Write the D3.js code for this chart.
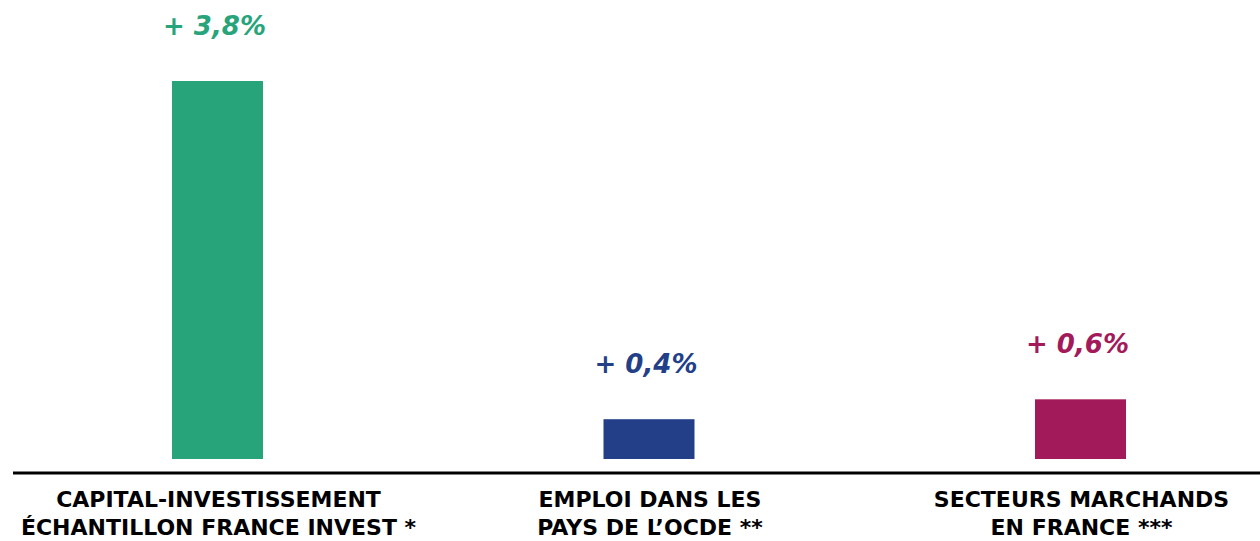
<!DOCTYPE html>
<html>
<head>
<meta charset="utf-8">
<script src="https://cdn.jsdelivr.net/npm/d3@7"></script>
<style>
  body { margin: 0; background: #fff; }
  svg { display: block; }
</style>
</head>
<body>
<script>
'use strict';

// chart data
const categories = ['capital', 'emploi', 'secteurs'];
const values = [3.8, 0.4, 0.6];
const valueLabels = ['+ 3,8%', '+ 0,4%', '+ 0,6%'];
const categoryLines = [
  ['CAPITAL-INVESTISSEMENT', 'ÉCHANTILLON FRANCE INVEST *'],
  ['EMPLOI DANS LES', 'PAYS DE L\u2019OCDE **'],
  ['SECTEURS MARCHANDS', 'EN FRANCE ***']
];
const colors = ['#27a47a', '#233f88', '#a31a5a'];

const width = 1260, height = 541;
const barWidth = 91;

const svg = d3.select('body').append('svg')
  .attr('width', width)
  .attr('height', height);

// x positions of bar centres
const x = d3.scalePoint()
  .domain(categories)
  .range([217.5, 1080.5]);

// value scale
const y = d3.scaleLinear()
  .domain([0, 3.8])
  .range([459, 81]);

const rows = categories.map((c, i) => ({
  cat: c, value: values[i], label: valueLabels[i], lines: categoryLines[i], color: colors[i]
}));

// bars
svg.selectAll('.bar')
  .data(rows)
  .enter()
  .append('rect')
    .attr('class', 'bar')
    .attr('x', d => x(d.cat) - barWidth / 2)
    .attr('y', d => y(d.value))
    .attr('width', barWidth)
    .attr('height', d => y(0) - y(d.value))
    .attr('fill', d => d.color);

// value labels above bars
svg.selectAll('.val')
  .data(rows)
  .enter()
  .append('text')
    .attr('class', 'val')
    .attr('x', d => x(d.cat) - 3)
    .attr('y', d => y(d.value) - 46)
    .attr('text-anchor', 'middle')
    .style('font-family', '"DejaVu Sans", sans-serif')
    .style('font-weight', 'bold')
    .style('font-style', 'italic')
    .style('font-size', '26px')
    .attr('fill', d => d.color)
    .text(d => d.label);

// baseline
svg.append('line')
  .attr('x1', 13)
  .attr('x2', width)
  .attr('y1', 473)
  .attr('y2', 473)
  .attr('stroke', '#000')
  .attr('stroke-width', 3);

// category labels
const cat = svg.selectAll('.cat')
  .data(rows)
  .enter()
  .append('text')
    .attr('class', 'cat')
    .attr('text-anchor', 'middle')
    .style('font-family', '"DejaVu Sans", sans-serif')
    .style('font-weight', 'bold')
    .style('font-size', '22px')
    .attr('fill', '#000');

cat.selectAll('tspan')
  .data(d => d.lines.map(l => ({ line: l, cat: d.cat })))
  .enter()
  .append('tspan')
    .attr('x', d => x(d.cat) + 1)
    .attr('y', (d, i) => 507 + i * 28)
    .text(d => d.line);
</script>
</body>
</html>
